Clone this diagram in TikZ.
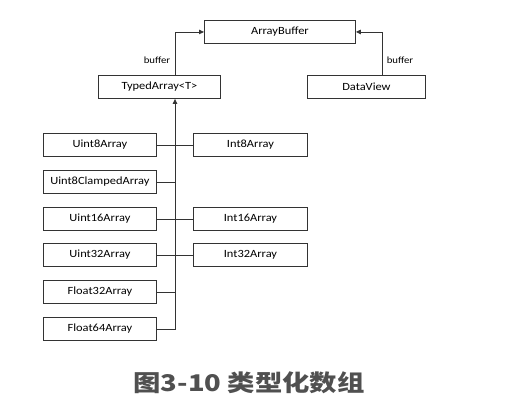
\documentclass[tikz,border=0pt]{standalone}
\usepackage{fontspec}
\setmainfont{Carlito}
\newfontfamily\cjkfont{Noto Sans CJK SC}
\usetikzlibrary{arrows.meta}
\definecolor{boxline}{HTML}{333333}
\definecolor{captiongray}{HTML}{505050}
\newcommand{\stretchtxt}[1]{\scalebox{1.13}[1]{#1}}
\begin{document}
\begin{tikzpicture}[x=1pt,y=-1pt,
  cls/.style={draw=boxline,line width=0.9pt,minimum height=23pt,inner sep=0pt,font=\fontsize{11}{13}\selectfont,anchor=north west},
  conn/.style={draw=boxline,line width=0.9pt},
  arr/.style={conn,-{Triangle[length=5pt,width=4.5pt]}},
  lbl/.style={font=\fontsize{9.5}{11}\selectfont}]
\useasboundingbox (0,0) rectangle (508,413);
\node[cls,minimum width=151pt] (ab) at (204,20) {\stretchtxt{ArrayBuffer}};
\node[cls,minimum width=122pt] (ta) at (98,75) {\stretchtxt{TypedArray<T>}};
\node[cls,minimum width=118pt] (dv) at (307,75) {\stretchtxt{DataView}};
\node[cls,minimum width=113pt] (u8) at (43,133) {\stretchtxt{Uint8Array}};
\node[cls,minimum width=114pt] (i8) at (193,133) {\stretchtxt{Int8Array}};
\node[cls,minimum width=113pt] (u8c) at (43,170) {\stretchtxt{Uint8ClampedArray}};
\node[cls,minimum width=113pt] (u16) at (43,207) {\stretchtxt{Uint16Array}};
\node[cls,minimum width=114pt] (i16) at (193,207) {\stretchtxt{Int16Array}};
\node[cls,minimum width=113pt] (u32) at (43,243) {\stretchtxt{Uint32Array}};
\node[cls,minimum width=114pt] (i32) at (193,243) {\stretchtxt{Int32Array}};
\node[cls,minimum width=113pt] (f32) at (43,280) {\stretchtxt{Float32Array}};
\node[cls,minimum width=113pt] (f64) at (43,317) {\stretchtxt{Float64Array}};
\coordinate (tx) at (175,0);
\coordinate (dx) at (382,0);
\draw[arr] (ta.north -| tx) |- (ab.west) node[lbl,pos=0.17,left=1pt] {\stretchtxt{buffer}};
\draw[arr] (dv.north -| dx) |- (ab.east) node[lbl,pos=0.17,right=1pt] {\stretchtxt{buffer}};
\draw[arr] (f64.east) -| (tx |- ta.south);
\draw[conn] (u8.east) -- (i8.west);
\draw[conn] (u8c.east) -- (u8c.east -| tx);
\draw[conn] (u16.east) -- (i16.west);
\draw[conn] (u32.east) -- (i32.west);
\draw[conn] (f32.east) -- (f32.east -| tx);
\node[font=\cjkfont\bfseries\fontsize{23}{26}\selectfont,text=captiongray,inner sep=0pt] (cap) at (249,383) {\scalebox{1.19}[1]{图3-10 类型化数组}};
\end{tikzpicture}
\end{document}
